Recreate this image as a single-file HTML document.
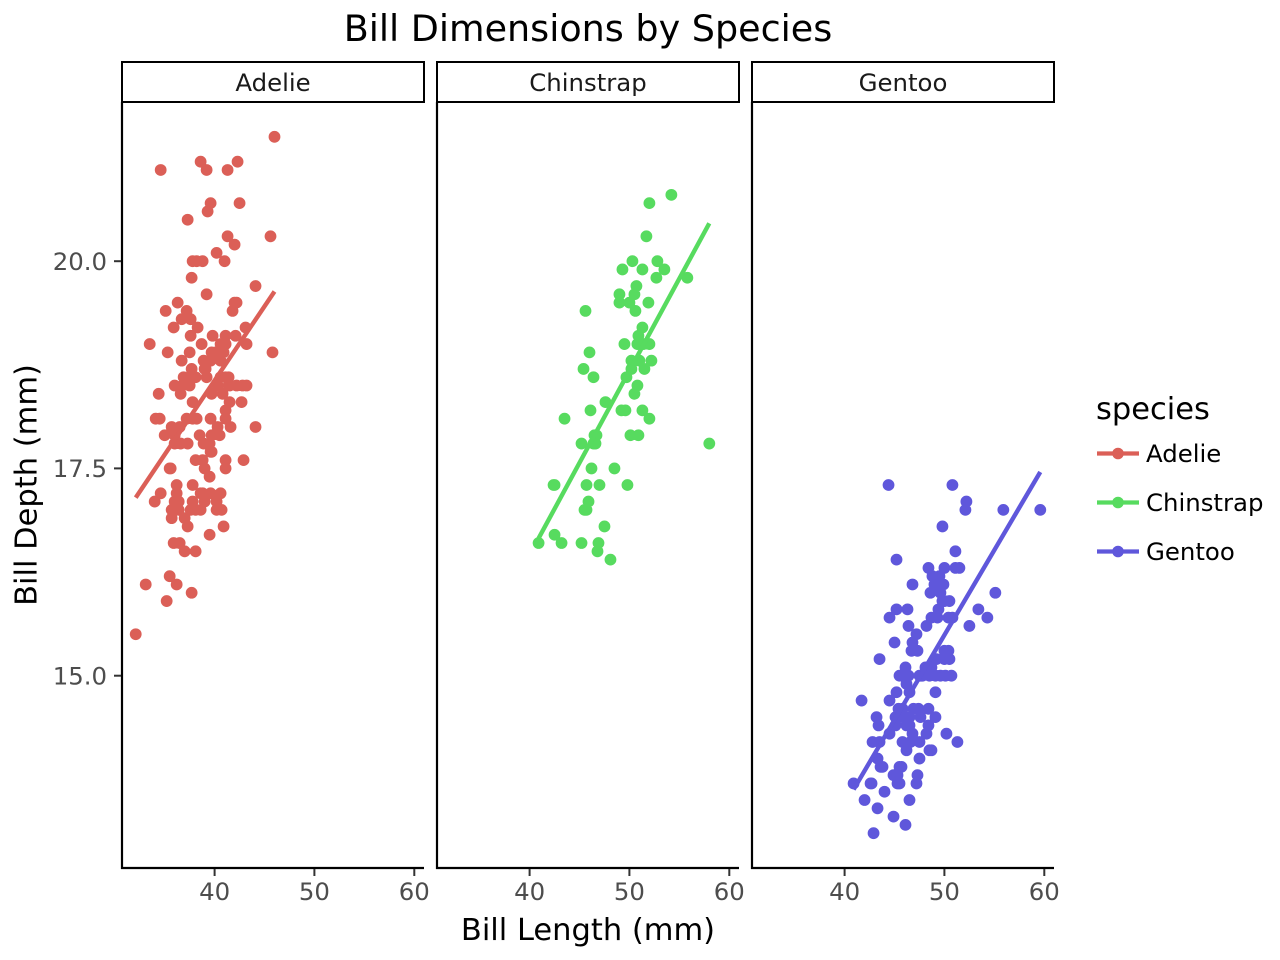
<!DOCTYPE html>
<html>
<head>
<meta charset="utf-8">
<style>
  html, body { margin: 0; padding: 0; background: #ffffff; }
  body { width: 1280px; height: 960px; overflow: hidden; }
  svg { display: block; font-family: "DejaVu Sans", "Liberation Sans", sans-serif; }
  .dots { fill: none; stroke-linecap: round; stroke-width: 11.8; }
  .fit { fill: none; stroke-linecap: butt; stroke-width: 4.4; }
  .tick { fill: #4d4d4d; font-size: 24.4px; }
</style>
</head>
<body>
<svg width="1280" height="960" viewBox="0 0 1280 960" xmlns="http://www.w3.org/2000/svg">
  <rect x="0" y="0" width="1280" height="960" fill="#ffffff"/>

  <!-- Title -->
  <text x="588" y="41" text-anchor="middle" font-size="36.5" fill="#000">Bill Dimensions by Species</text>

  <!-- Strips -->
  <g fill="#ffffff" stroke="#000" stroke-width="2">
    <rect x="122" y="62" width="302" height="40"/>
    <rect x="437" y="62" width="302" height="40"/>
    <rect x="752" y="62" width="302" height="40"/>
  </g>
  <g font-size="24.4" fill="#1a1a1a" text-anchor="middle">
    <text x="273" y="91">Adelie</text>
    <text x="588" y="91">Chinstrap</text>
    <text x="903" y="91">Gentoo</text>
  </g>

  <!-- Adelie panel data -->
  <g transform="matrix(9.9835 0 0 -82.9 -184.74 1919.17)">
    <path class="dots" vector-effect="non-scaling-stroke" stroke="#db5f57" d="M39.1 18.7h0M39.5 17.4h0M40.3 18h0M36.7 19.3h0M39.3 20.6h0M38.9 17.8h0M39.2 19.6h0M34.1 18.1h0M42 20.2h0M37.8 17.1h0M37.8 17.3h0M41.1 17.6h0M38.6 21.2h0M34.6 21.1h0M36.6 17.8h0M38.7 19h0M42.5 20.7h0M34.4 18.4h0M46 21.5h0M37.8 18.3h0M37.7 18.7h0M35.9 19.2h0M38.2 18.1h0M38.8 17.2h0M35.3 18.9h0M40.6 18.6h0M40.5 17.9h0M37.9 18.6h0M40.5 18.9h0M39.5 16.7h0M37.2 18.1h0M39.5 17.8h0M40.9 18.9h0M36.4 17h0M39.2 21.1h0M38.8 20h0M42.2 18.5h0M37.6 19.3h0M39.8 19.1h0M36.5 18h0M40.8 18.4h0M36 18.5h0M44.1 19.7h0M37 16.9h0M39.6 18.8h0M41.1 19h0M37.5 18.9h0M36 17.9h0M42.3 21.2h0M39.6 17.7h0M40.1 18.9h0M35 17.9h0M42 19.5h0M34.5 18.1h0M41.4 18.6h0M39 17.5h0M40.6 18.8h0M36.5 16.6h0M37.6 19.1h0M35.7 16.9h0M41.3 21.1h0M37.6 17h0M41.1 18.2h0M36.4 17.1h0M41.6 18h0M35.5 16.2h0M41.1 19.1h0M35.9 16.6h0M41.8 19.4h0M33.5 19h0M39.7 18.4h0M39.6 17.2h0M45.8 18.9h0M35.5 17.5h0M42.8 18.5h0M40.9 16.8h0M37.2 19.4h0M36.2 16.1h0M42.1 19.1h0M34.6 17.2h0M42.9 17.6h0M36.7 18.8h0M35.1 19.4h0M37.3 17.8h0M41.3 20.3h0M36.3 19.5h0M36.9 18.6h0M38.3 19.2h0M38.9 18.8h0M35.7 18h0M41.1 18.1h0M34 17.1h0M39.6 18.1h0M36.2 17.3h0M40.8 18.9h0M38.1 18.6h0M40.3 18.5h0M33.1 16.1h0M43.2 18.5h0M35 17.9h0M41 20h0M37.7 16h0M37.8 20h0M37.9 18.6h0M39.7 18.9h0M38.6 17.2h0M38.2 20h0M38.1 17h0M43.2 19h0M38.1 16.5h0M45.6 20.3h0M39.7 17.7h0M42.2 19.5h0M39.6 20.7h0M42.7 18.3h0M38.6 17h0M37.3 20.5h0M35.7 17h0M41.1 18.6h0M36.2 17.2h0M37.7 19.8h0M40.2 17h0M41.4 18.5h0M35.2 15.9h0M40.6 19h0M38.8 17.6h0M41.5 18.3h0M39 17.1h0M44.1 18h0M38.5 17.9h0M43.1 19.2h0M36.8 18.5h0M37.5 18.5h0M38.1 17.6h0M41.1 17.5h0M35.6 17.5h0M40.2 20.1h0M37 16.5h0M39.7 17.9h0M40.2 17.1h0M40.6 17.2h0M32.1 15.5h0M40.7 17h0M37.3 16.8h0M39 18.7h0M39.2 18.6h0M36.6 18.4h0M36 17.8h0M37.8 18.1h0M36 17.1h0M41.5 18.5h0"/>
    <path class="fit" vector-effect="non-scaling-stroke" stroke="#db5f57" d="M32.1 17.148L46 19.634"/>
  </g>

  <!-- Chinstrap panel data -->
  <g transform="matrix(9.9835 0 0 -82.9 130.26 1919.17)">
    <path class="dots" vector-effect="non-scaling-stroke" stroke="#57db5f" d="M46.5 17.9h0M50 19.5h0M51.3 19.2h0M45.4 18.7h0M52.7 19.8h0M45.2 17.8h0M46.1 18.2h0M51.3 18.2h0M46 18.9h0M51.3 19.9h0M46.6 17.8h0M51.7 20.3h0M47 17.3h0M52 18.1h0M45.9 17.1h0M50.5 19.6h0M50.3 20h0M58 17.8h0M46.4 18.6h0M49.2 18.2h0M42.4 17.3h0M48.5 17.5h0M43.2 16.6h0M50.6 19.4h0M46.7 17.9h0M52 19h0M50.5 18.4h0M49.5 19h0M46.4 17.8h0M52.8 20h0M40.9 16.6h0M54.2 20.8h0M42.5 16.7h0M51 18.8h0M49.7 18.6h0M47.5 16.8h0M47.6 18.3h0M52 20.7h0M46.9 16.6h0M53.5 19.9h0M49 19.5h0M46.2 17.5h0M50.9 19.1h0M45.5 17h0M50.9 17.9h0M50.8 18.5h0M50.1 17.9h0M49 19.6h0M51.5 18.7h0M49.8 17.3h0M48.1 16.4h0M51.4 19h0M45.7 17.3h0M50.7 19.7h0M42.5 17.3h0M52.2 18.8h0M45.2 16.6h0M49.3 19.9h0M50.2 18.8h0M45.6 19.4h0M51.9 19.5h0M46.8 16.5h0M45.7 17h0M55.8 19.8h0M43.5 18.1h0M49.6 18.2h0M50.8 19h0M50.2 18.7h0"/>
    <path class="fit" vector-effect="non-scaling-stroke" stroke="#57db5f" d="M40.9 16.657L58 20.457"/>
  </g>

  <!-- Gentoo panel data -->
  <g transform="matrix(9.9835 0 0 -82.9 445.26 1919.17)">
    <path class="dots" vector-effect="non-scaling-stroke" stroke="#5f57db" d="M46.1 13.2h0M50 16.3h0M48.7 14.1h0M50 15.2h0M47.6 14.5h0M46.5 13.5h0M45.4 14.6h0M46.7 15.3h0M43.3 13.4h0M46.8 15.4h0M40.9 13.7h0M49 16.1h0M45.5 13.7h0M48.4 14.6h0M45.8 14.6h0M49.3 15.7h0M42 13.5h0M49.2 15.2h0M46.2 14.5h0M48.7 15.1h0M50.2 14.3h0M45.1 14.5h0M46.5 14.5h0M46.3 15.8h0M42.9 13.1h0M46.1 15.1h0M44.5 14.3h0M47.8 15h0M48.2 14.3h0M50 15.3h0M47.3 15.3h0M42.8 14.2h0M45.1 14.5h0M59.6 17h0M49.1 14.8h0M48.4 16.3h0M42.6 13.7h0M44.4 17.3h0M44 13.6h0M48.7 15.7h0M42.7 13.7h0M49.6 16h0M45.3 13.7h0M49.6 15h0M50.5 15.9h0M43.6 13.9h0M45.5 13.9h0M50.5 15.9h0M44.9 13.3h0M45.2 15.8h0M46.6 14.2h0M48.5 14.1h0M45.1 14.4h0M50.1 15h0M46.5 14.4h0M45 15.4h0M43.8 13.9h0M45.5 15h0M43.2 14.5h0M50.4 15.3h0M45.3 13.8h0M46.2 14.9h0M45.7 13.9h0M54.3 15.7h0M45.8 14.2h0M49.8 16.8h0M46.2 14.4h0M49.5 16.2h0M43.5 14.2h0M50.7 15h0M47.7 15h0M46.4 15.6h0M48.2 15.6h0M46.5 14.8h0M46.4 15h0M48.6 16h0M47.5 14.2h0M51.1 16.3h0M45.2 13.8h0M45.2 16.4h0M49.1 14.5h0M52.5 15.6h0M47.4 14.6h0M50 15.9h0M44.9 13.8h0M50.8 17.3h0M43.4 14.4h0M51.3 14.2h0M47.5 14h0M52.1 17h0M47.5 15h0M52.2 17.1h0M45.5 14.5h0M49.5 16.1h0M44.5 14.7h0M50.8 15.7h0M49.4 15.8h0M46.9 14.6h0M48.4 14.4h0M51.1 16.5h0M48.5 15h0M55.9 17h0M47.2 15.5h0M49.1 15h0M47.3 13.8h0M46.8 16.1h0M41.7 14.7h0M53.4 15.8h0M43.3 14h0M48.1 15.1h0M50.5 15.2h0M49.8 15.9h0M43.5 15.2h0M51.5 16.3h0M46.2 14.1h0M55.1 16h0M44.5 15.7h0M48.8 16.2h0M47.2 13.7h0M46.8 14.3h0M50.4 15.7h0M45.2 14.8h0M49.9 16.1h0"/>
    <path class="fit" vector-effect="non-scaling-stroke" stroke="#5f57db" d="M40.9 13.627L59.6 17.457"/>
  </g>

  <!-- Axis lines -->
  <g stroke="#000" stroke-width="2.2" fill="none">
    <line x1="122" y1="102" x2="122" y2="869"/>
    <line x1="121" y1="868" x2="424" y2="868"/>
    <line x1="437" y1="102" x2="437" y2="869"/>
    <line x1="436" y1="868" x2="739" y2="868"/>
    <line x1="752" y1="102" x2="752" y2="869"/>
    <line x1="751" y1="868" x2="1054" y2="868"/>
  </g>

  <!-- Ticks -->
  <g stroke="#333333" stroke-width="2">
    <line x1="214.6" y1="869" x2="214.6" y2="876"/>
    <line x1="314.4" y1="869" x2="314.4" y2="876"/>
    <line x1="414.3" y1="869" x2="414.3" y2="876"/>
    <line x1="529.6" y1="869" x2="529.6" y2="876"/>
    <line x1="629.4" y1="869" x2="629.4" y2="876"/>
    <line x1="729.3" y1="869" x2="729.3" y2="876"/>
    <line x1="844.6" y1="869" x2="844.6" y2="876"/>
    <line x1="944.4" y1="869" x2="944.4" y2="876"/>
    <line x1="1044.3" y1="869" x2="1044.3" y2="876"/>
    <line x1="114" y1="261.2" x2="121" y2="261.2"/>
    <line x1="114" y1="468.4" x2="121" y2="468.4"/>
    <line x1="114" y1="675.7" x2="121" y2="675.7"/>
  </g>

  <!-- Tick labels -->
  <g class="tick" text-anchor="middle">
    <text x="214.6" y="900">40</text>
    <text x="314.4" y="900">50</text>
    <text x="414.3" y="900">60</text>
    <text x="529.6" y="900">40</text>
    <text x="629.4" y="900">50</text>
    <text x="729.3" y="900">60</text>
    <text x="844.6" y="900">40</text>
    <text x="944.4" y="900">50</text>
    <text x="1044.3" y="900">60</text>
  </g>
  <g class="tick" text-anchor="end">
    <text x="107" y="270">20.0</text>
    <text x="107" y="477">17.5</text>
    <text x="107" y="684.5">15.0</text>
  </g>

  <!-- Axis titles -->
  <text x="588" y="940" text-anchor="middle" font-size="30.5" fill="#000">Bill Length (mm)</text>
  <text transform="translate(36.5 485) rotate(-90)" text-anchor="middle" font-size="30.5" fill="#000">Bill Depth (mm)</text>

  <!-- Legend -->
  <text x="1096" y="419" font-size="30.5" fill="#000">species</text>
  <g stroke-width="4.2">
    <line x1="1097" y1="453.5" x2="1139" y2="453.5" stroke="#db5f57"/>
    <line x1="1097" y1="502.5" x2="1139" y2="502.5" stroke="#57db5f"/>
    <line x1="1097" y1="551.5" x2="1139" y2="551.5" stroke="#5f57db"/>
  </g>
  <circle cx="1118" cy="453.5" r="5.8" fill="#db5f57"/>
  <circle cx="1118" cy="502.5" r="5.8" fill="#57db5f"/>
  <circle cx="1118" cy="551.5" r="5.8" fill="#5f57db"/>
  <g font-size="24.4" fill="#000">
    <text x="1146" y="462">Adelie</text>
    <text x="1146" y="511">Chinstrap</text>
    <text x="1146" y="560">Gentoo</text>
  </g>
</svg>
</body>
</html>
